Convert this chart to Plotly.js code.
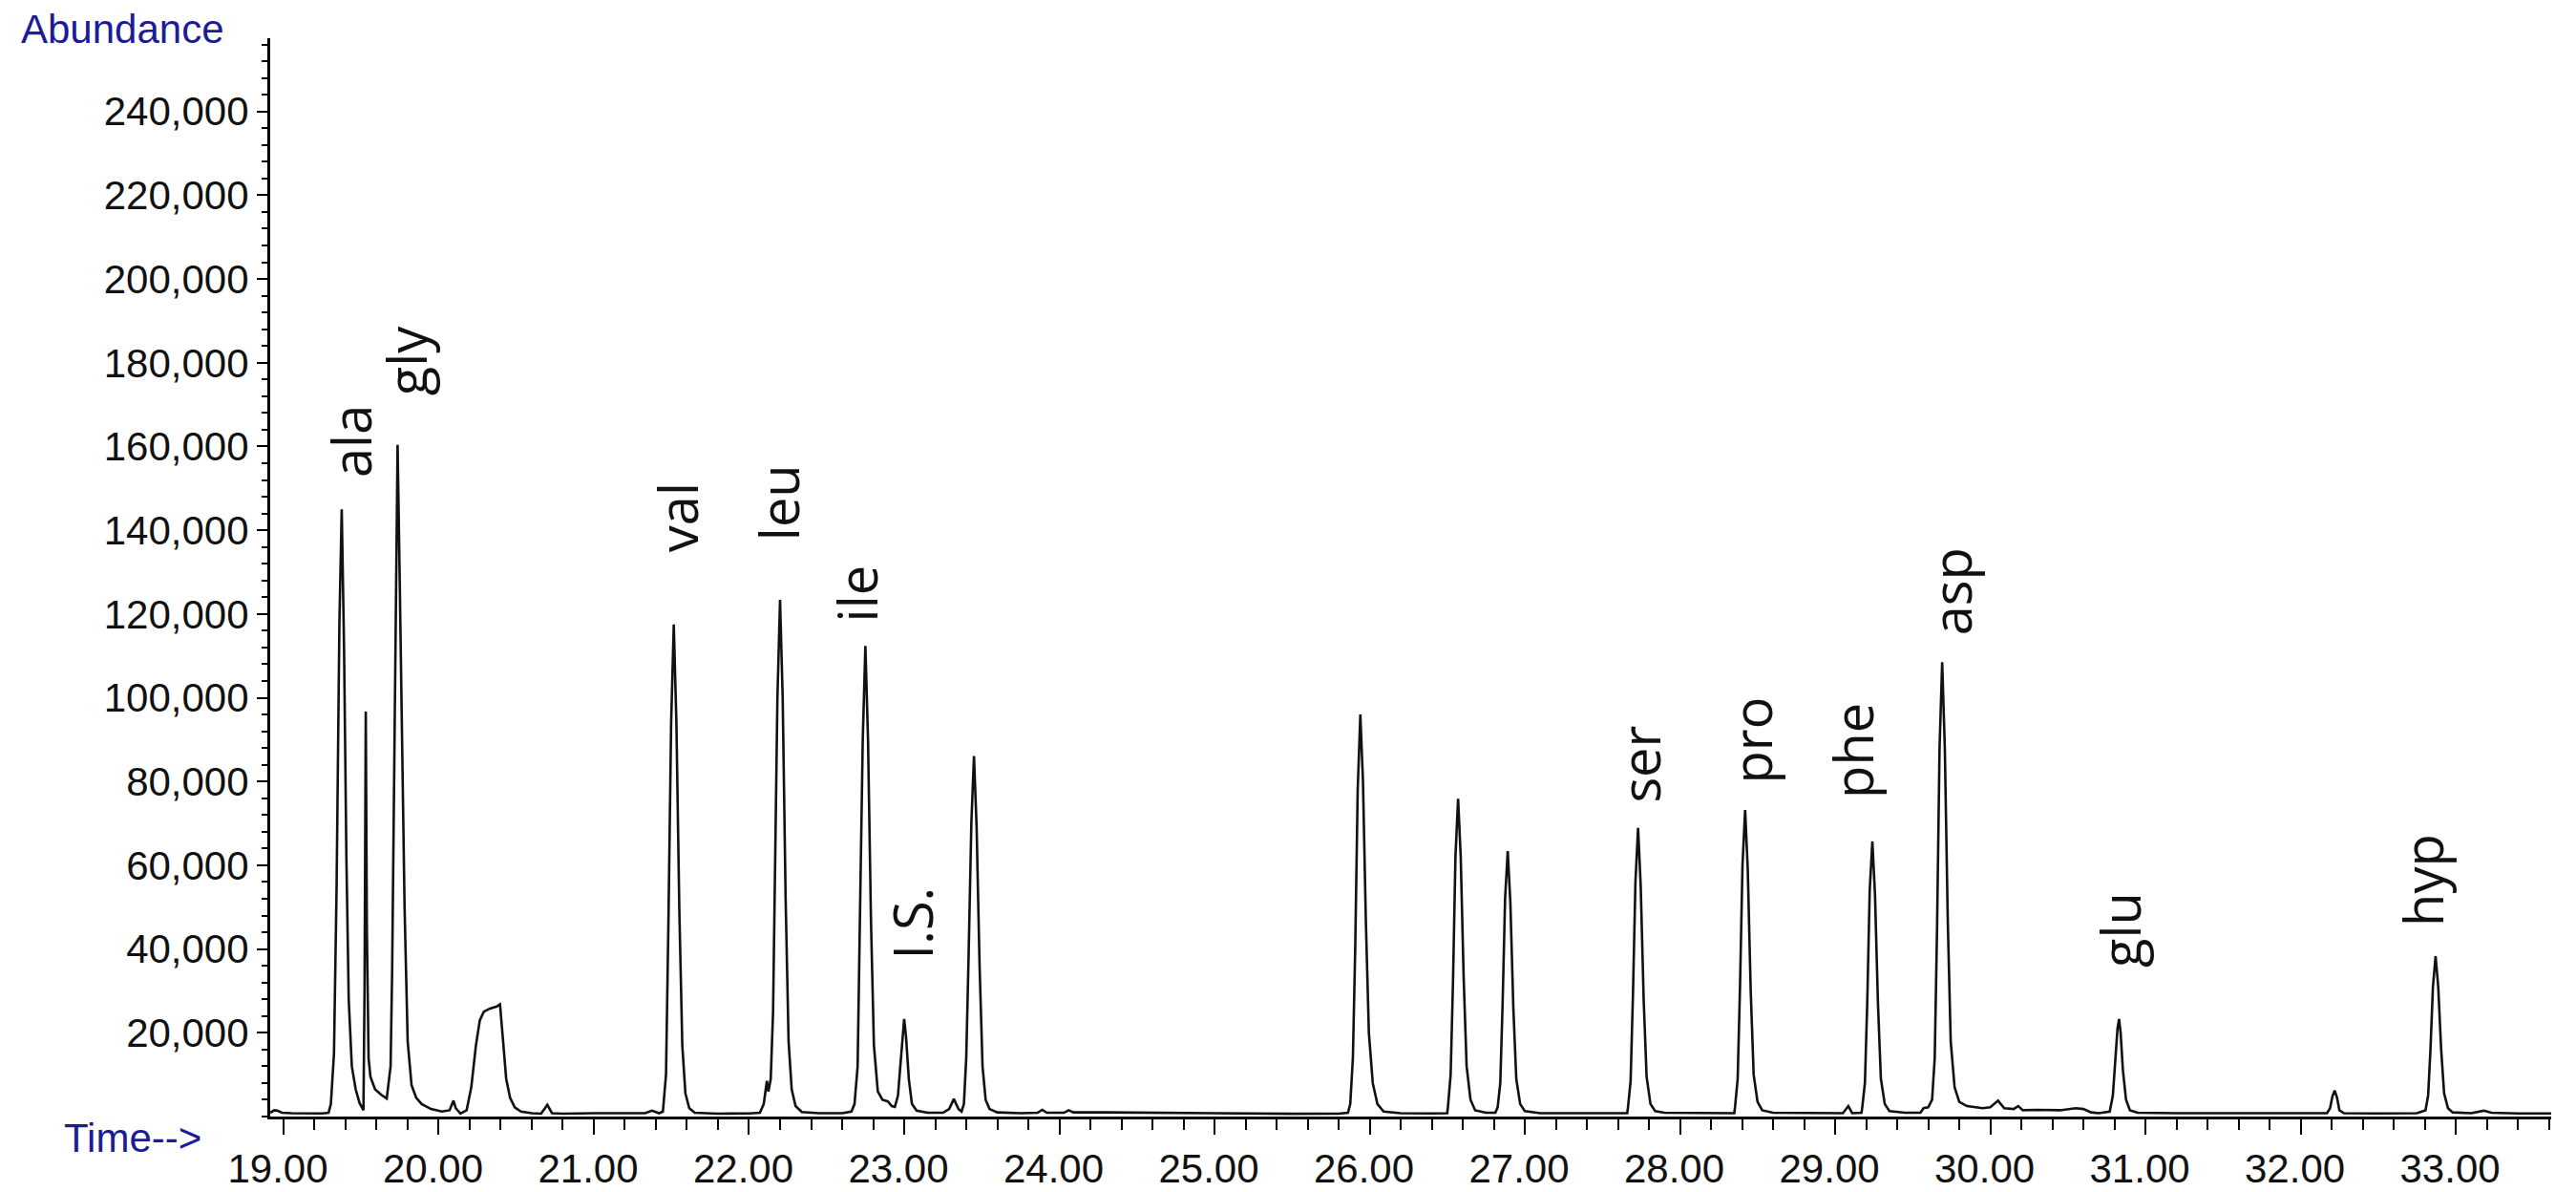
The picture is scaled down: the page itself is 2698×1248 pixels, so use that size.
<!DOCTYPE html>
<html>
<head>
<meta charset="utf-8">
<script src="https://cdn.plot.ly/plotly-3.0.1.min.js"></script>
<style>
  html, body { margin: 0; padding: 0; background: #ffffff; }
  #chart { width: 2698px; height: 1248px; }
</style>
</head>
<body>
<div id="chart"></div>
<script>
// ---- Chromatogram trace (retention time in min, abundance) ----
const timeMin = [
  18.915, 18.94, 18.96, 18.99, 19.05, 19.15, 19.25, 19.29,
  // ala
  19.305, 19.325, 19.342, 19.36, 19.375, 19.39, 19.405, 19.42, 19.44, 19.465, 19.49, 19.515,
  // spike
  19.522, 19.53, 19.537, 19.548, 19.56, 19.59, 19.63, 19.665,
  // gly
  19.69, 19.70, 19.71, 19.722, 19.735, 19.748, 19.762, 19.78, 19.80, 19.825, 19.855, 19.89, 19.95, 20.02, 20.07, 20.095, 20.11, 20.14,
  // broad hump
  20.18, 20.21, 20.24, 20.265, 20.29, 20.33, 20.375, 20.395, 20.415, 20.435, 20.46, 20.49, 20.53, 20.60, 20.66, 20.70, 20.73, 20.80, 21.0, 21.2, 21.33, 21.375, 21.42,
  // val
  21.445, 21.465, 21.48, 21.498, 21.515, 21.532, 21.551, 21.57, 21.59, 21.615, 21.65, 21.8, 22.0, 22.07,
  // leu shoulder + leu
  22.095, 22.115, 22.125, 22.14, 22.155, 22.168, 22.183, 22.20, 22.217, 22.236, 22.255, 22.275, 22.30, 22.34, 22.45, 22.60, 22.66,
  // ile
  22.68, 22.70, 22.715, 22.733, 22.75, 22.767, 22.786, 22.805, 22.83, 22.86, 22.895, 22.92, 22.94,
  // I.S.
  22.96, 22.975, 22.99, 23.00, 23.012, 23.03, 23.05, 23.08, 23.15, 23.25, 23.29, 23.32, 23.35, 23.37,
  // 23.45 peak
  23.385, 23.40, 23.415, 23.433, 23.45, 23.467, 23.486, 23.505, 23.525, 23.55, 23.6, 23.75, 23.86, 23.89, 23.92, 24.03, 24.06, 24.09, 24.3, 24.6, 24.9, 25.1, 25.5, 25.8, 25.86,
  // 25.94 peak
  25.875, 25.892, 25.907, 25.923, 25.94, 25.957, 25.976, 25.995, 26.02, 26.05, 26.09, 26.2, 26.4, 26.5,
  // 26.57 peak
  26.505, 26.522, 26.537, 26.553, 26.57, 26.587, 26.606, 26.625, 26.65, 26.68, 26.75, 26.81,
  // 26.89 peak
  26.825, 26.842, 26.857, 26.873, 26.89, 26.907, 26.926, 26.945, 26.97, 27.0, 27.1, 27.4, 27.66,
  // ser
  27.665, 27.682, 27.697, 27.713, 27.73, 27.747, 27.766, 27.785, 27.81, 27.84, 27.9, 28.2, 28.35,
  // pro
  28.355, 28.372, 28.387, 28.403, 28.42, 28.437, 28.456, 28.475, 28.50, 28.53, 28.6, 28.9, 29.05, 29.085, 29.11, 29.17,
  // phe
  29.175, 29.192, 29.207, 29.223, 29.24, 29.257, 29.276, 29.295, 29.32, 29.35, 29.45, 29.55, 29.57, 29.6,
  // asp
  29.625, 29.642, 29.657, 29.673, 29.69, 29.707, 29.726, 29.745, 29.77, 29.80, 29.85, 29.95, 30.0, 30.05, 30.09, 30.15, 30.18, 30.21, 30.3, 30.45, 30.55, 30.6, 30.65, 30.7,
  // glu
  30.77, 30.79, 30.805, 30.82, 30.83, 30.84, 30.855, 30.875, 30.9, 30.95, 31.2, 31.6, 32.0, 32.17,
  // 32.22 bump
  32.19, 32.205, 32.22, 32.235, 32.25, 32.28, 32.5, 32.75,
  // hyp
  32.805, 32.822, 32.837, 32.853, 32.87, 32.887, 32.906, 32.925, 32.95, 32.98, 33.1, 33.18, 33.23, 33.4, 33.615
];
const abundance = [
  900, 1500, 1400, 900, 800, 700, 750, 900,
  3000, 15000, 55000, 118000, 145000, 112000, 62000, 28000, 12000, 6500, 3200, 1500,
  30000, 96700, 45000, 14000, 9500, 6500, 5200, 4300,
  12000, 35000, 75000, 125000, 160400, 130000, 95000, 50000, 18000, 7500, 4500, 3000, 1800, 1200, 1500, 3800, 2000, 700,
  1500, 7000, 17000, 23000, 25000, 25800, 26300, 26800, 18000, 9000, 4500, 2200, 1200, 800, 700, 2800, 800, 700, 800, 700, 800, 1400, 800,
  1200, 10000, 45000, 94000, 117500, 94000, 49000, 17000, 5500, 2000, 900, 700, 750, 900,
  3000, 8500, 6000, 9000, 25000, 55000, 100000, 123400, 100000, 52000, 18000, 6500, 2500, 1100, 800, 800, 1200,
  3000, 12000, 48000, 90000, 112400, 90000, 47000, 17000, 6000, 4000, 3600, 2500, 2300,
  5000, 12000, 20000, 23300, 19000, 9000, 3000, 1400, 900, 900, 1800, 4200, 1800, 1200,
  3000, 14000, 38000, 70000, 86100, 69000, 36000, 12000, 4000, 1800, 1000, 800, 900, 1600, 900, 900, 1500, 1000, 1000, 900, 900, 700, 650, 700, 900,
  3000, 14000, 40000, 78000, 96000, 80000, 46000, 20000, 8000, 3000, 1200, 800, 750, 800,
  2500, 10000, 32000, 62000, 75900, 62000, 33000, 12000, 4000, 1500, 900, 900,
  2200, 8000, 27000, 52000, 63400, 51000, 26000, 9000, 3000, 1300, 800, 800, 800,
  2200, 8500, 29000, 56000, 68900, 55000, 28000, 9500, 3000, 1300, 900, 800, 800,
  2300, 9000, 31000, 60000, 73200, 59000, 30000, 10000, 3500, 1500, 900, 800, 800, 2500, 800, 900,
  2200, 8000, 27000, 54000, 65700, 53000, 27000, 9000, 3000, 1300, 900, 900, 2000, 2200,
  4000, 14000, 45000, 88000, 108500, 88000, 47000, 18000, 7000, 3500, 2500, 2000, 2200, 3800, 2000, 1800, 2500, 1500, 1600, 1500, 2000, 1800, 1000, 800,
  1200, 5000, 13000, 21000, 23300, 20000, 11000, 4000, 1500, 900, 800, 750, 750, 800,
  2000, 4800, 6200, 4500, 1500, 800, 750, 800,
  1500, 5000, 16000, 31000, 38300, 31000, 16000, 5500, 2000, 1000, 800, 1400, 900, 750, 750
];

// ---- Peak labels ----
const peakNames = ["ala", "gly", "val", "leu", "ile", "I.S.", "ser", "pro", "phe", "asp", "glu", "hyp"];
const labelTime = [19.428, 19.788, 21.535, 22.19, 22.69, 23.05, 27.74, 28.46, 29.11, 29.75, 30.83, 32.78];
const labelBase = [152000, 171700, 134400, 137100, 117500, 37100, 74400, 79000, 75500, 114400, 35100, 44900];

// ---- Axis ticks ----
const xTickVals = [19, 20, 21, 22, 23, 24, 25, 26, 27, 28, 29, 30, 31, 32, 33];
const xTickText = ["19.00", "20.00", "21.00", "22.00", "23.00", "24.00", "25.00", "26.00", "27.00", "28.00", "29.00", "30.00", "31.00", "32.00", "33.00"];
const yTickVals = [20000, 40000, 60000, 80000, 100000, 120000, 140000, 160000, 180000, 200000, 220000, 240000];
const yTickText = ["20,000", "40,000", "60,000", "80,000", "100,000", "120,000", "140,000", "160,000", "180,000", "200,000", "220,000", "240,000"];

const tickFont = { family: "Liberation Sans, Arial, sans-serif", size: 42, color: "#111111" };
const blue = "#1c1c96";

const annotations = peakNames.map((name, i) => ({
  x: labelTime[i], y: labelBase[i], xref: "x", yref: "y",
  text: name, textangle: -90, showarrow: false,
  xanchor: "center", yanchor: "bottom",
  font: { family: "Open Sans, sans-serif", size: 56, color: "#111111" }
}));
annotations.push({
  x: -0.1101, y: 1.008, xref: "paper", yref: "paper", text: "Abundance",
  showarrow: false, xanchor: "left", yanchor: "middle",
  font: { family: "Liberation Sans, Arial, sans-serif", size: 42, color: blue }
});
annotations.push({
  x: -0.0913, y: -0.0195, xref: "paper", yref: "paper", text: "Time-->",
  showarrow: false, xanchor: "left", yanchor: "middle",
  font: { family: "Liberation Sans, Arial, sans-serif", size: 42, color: blue }
});

const data = [{
  x: timeMin, y: abundance, type: "scatter", mode: "lines",
  line: { color: "#111111", width: 2.6 }, hoverinfo: "skip"
}];

const layout = {
  width: 2698, height: 1248,
  margin: { l: 283, r: 26, t: 40, b: 79 },
  paper_bgcolor: "#ffffff", plot_bgcolor: "#ffffff",
  showlegend: false,
  xaxis: {
    range: [18.914, 33.615], tickmode: "array", tickvals: xTickVals, ticktext: xTickText,
    ticks: "outside", ticklen: 16, tickwidth: 2, tickcolor: "#000",
    showline: true, linewidth: 3, linecolor: "#000",
    showgrid: false, zeroline: false, tickfont: tickFont, ticklabelshift: -6,
    minor: { tickmode: "linear", tick0: 19, dtick: 0.2, ticks: "outside", ticklen: 11, tickwidth: 2, tickcolor: "#000", showgrid: false }
  },
  yaxis: {
    range: [0, 257500], tickmode: "array", tickvals: yTickVals, ticktext: yTickText,
    ticks: "outside", ticklen: 11, tickwidth: 2, tickcolor: "#000",
    showline: true, linewidth: 3, linecolor: "#000",
    showgrid: false, zeroline: false, tickfont: tickFont,
    minor: { tickmode: "linear", tick0: 0, dtick: 4000, ticks: "outside", ticklen: 6, tickwidth: 2, tickcolor: "#000", showgrid: false }
  },
  annotations: annotations
};

Plotly.newPlot("chart", data, layout, { displayModeBar: false, staticPlot: true });
</script>
</body>
</html>
